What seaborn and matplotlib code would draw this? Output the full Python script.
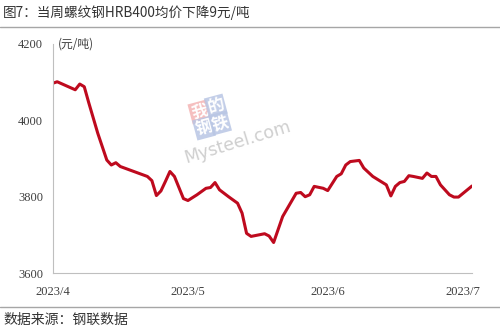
import matplotlib
matplotlib.use("Agg")
import matplotlib.pyplot as plt
import matplotlib.dates as mdates
import seaborn as sns
import pandas as pd

dates = ["2023-04-01", "2023-04-02", "2023-04-06", "2023-04-07", "2023-04-08",
         "2023-04-09", "2023-04-11", "2023-04-13", "2023-04-14", "2023-04-15",
         "2023-04-16", "2023-04-19", "2023-04-22", "2023-04-23", "2023-04-24",
         "2023-04-25", "2023-04-26", "2023-04-27", "2023-04-28", "2023-04-30",
         "2023-05-01", "2023-05-03", "2023-05-05", "2023-05-06", "2023-05-07",
         "2023-05-08", "2023-05-10", "2023-05-12", "2023-05-13", "2023-05-14",
         "2023-05-15", "2023-05-18", "2023-05-19", "2023-05-20", "2023-05-22",
         "2023-05-25", "2023-05-26", "2023-05-27", "2023-05-28", "2023-05-29",
         "2023-05-31", "2023-06-01", "2023-06-03", "2023-06-04", "2023-06-05",
         "2023-06-06", "2023-06-08", "2023-06-09", "2023-06-11", "2023-06-14",
         "2023-06-15", "2023-06-16", "2023-06-17", "2023-06-18", "2023-06-19",
         "2023-06-20", "2023-06-22", "2023-06-23", "2023-06-24", "2023-06-25",
         "2023-06-26", "2023-06-28", "2023-06-29", "2023-06-30", "2023-07-03"]
prices = [4097, 4101, 4080, 4095, 4088,
          4046, 3966, 3896, 3883, 3889,
          3879, 3866, 3853, 3842, 3803,
          3815, 3840, 3866, 3853, 3795,
          3790, 3805, 3822, 3824, 3837,
          3818, 3800, 3783, 3757, 3704,
          3696, 3703, 3697, 3680, 3748,
          3809, 3811, 3800, 3805, 3827,
          3822, 3816, 3853, 3860, 3883,
          3892, 3895, 3875, 3853, 3831,
          3802, 3827, 3837, 3840, 3855,
          3853, 3848, 3862, 3853, 3853,
          3831, 3805, 3799, 3799, 3828]

title = "图7：当周螺纹钢HRB400均价下降9元/吨"
source = "数据来源：钢联数据"
unit = "(元/吨)"
yticks = [3600, 3800, 4000, 4200]
xticks = ["2023-04-01", "2023-05-01", "2023-06-01", "2023-07-01"]

df = pd.DataFrame({"date": pd.to_datetime(dates), "price": prices})

sns.set_theme(style="white")
plt.rcParams["font.family"] = ["Noto Sans CJK SC", "DejaVu Sans"]

fig = plt.figure(figsize=(5, 3.33), dpi=100)
ax = fig.add_axes([0.1054, 0.180, 0.8386, 0.688])

sns.lineplot(data=df, x="date", y="price", ax=ax, color="#BE0A1E", linewidth=2.2)

ax.set_ylim(3600, 4200)
ax.set_xlim(pd.Timestamp("2023-04-01"), pd.Timestamp("2023-07-03"))
ax.set_yticks(yticks)
ax.set_xticks(pd.to_datetime(xticks))
ax.xaxis.set_major_formatter(mdates.DateFormatter("%Y/%-m"))
ax.set_xlabel("")
ax.set_ylabel("")

for s in ["top", "right"]:
    ax.spines[s].set_visible(False)
for s in ["left", "bottom"]:
    ax.spines[s].set_color("#BFBFBF")
    ax.spines[s].set_linewidth(0.8)

ax.tick_params(axis="y", direction="out", length=3, color="#D9D9D9", width=0.8,
               labelsize=9, labelcolor="#404040", pad=4)
ax.tick_params(axis="x", direction="in", length=4, color="#BFBFBF", width=0.8,
               labelsize=9, labelcolor="#404040", pad=9)
for lab in ax.get_xticklabels() + ax.get_yticklabels():
    lab.set_fontfamily("Liberation Serif")

ax.text(0.012, 1.0, unit, transform=ax.transAxes, fontsize=8.5, color="#404040",
        va="center", ha="left")

# watermark (approximation of the Mysteel logo)
wm_chars = ["我", "的", "钢", "铁"]
wm_colors = ["#F4B4B4", "#B9C6E4", "#B9C6E4", "#B9C6E4"]
wm_pos = [(0.350, 0.703), (0.389, 0.729), (0.361, 0.633), (0.399, 0.655)]
for ch, c, (px, py) in zip(wm_chars, wm_colors, wm_pos):
    ax.text(px, py, ch, transform=ax.transAxes, fontsize=12, color="white",
            rotation=15, ha="center", va="center", fontweight="bold",
            bbox=dict(boxstyle="square,pad=0.08", fc=c, ec="none", alpha=0.85))
ax.text(0.442, 0.570, "Mysteel.com", transform=ax.transAxes, fontsize=12.5,
        color="#CFCFCF", rotation=17, ha="center", va="center",
        family="DejaVu Sans")

fig.text(0.006, 0.962, title, fontsize=9.8, color="#333333", ha="left",
         va="center", fontweight="medium")
fig.add_artist(plt.Line2D([0, 1], [0.919, 0.919], transform=fig.transFigure,
                          color="#A6A6A6", linewidth=1))
fig.add_artist(plt.Line2D([0, 1], [0.078, 0.078], transform=fig.transFigure,
                          color="#A6A6A6", linewidth=1))
fig.text(0.006, 0.038, source, fontsize=10, color="#333333", ha="left",
         va="center")

fig.savefig("out.png", dpi=100, facecolor="white")
